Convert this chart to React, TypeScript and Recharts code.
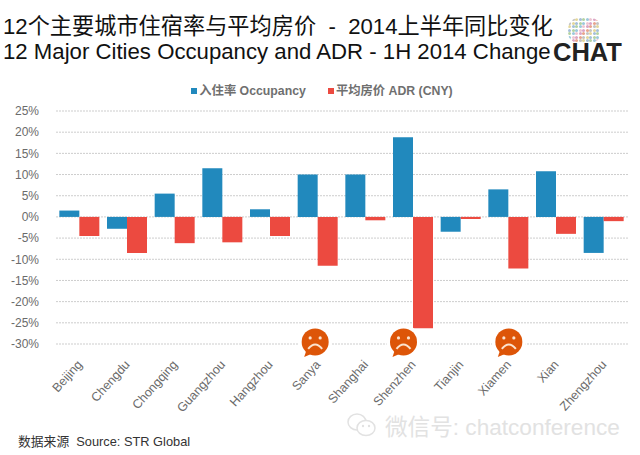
import { Bar, BarChart, CartesianGrid, Legend, ReferenceDot, XAxis, YAxis } from 'recharts'

const cities = ['Beijing', 'Chengdu', 'Chongqing', 'Guangzhou', 'Hangzhou', 'Sanya', 'Shanghai', 'Shenzhen', 'Tianjin', 'Xiamen', 'Xian', 'Zhengzhou']
const occupancy = [1.5, -2.8, 5.5, 11.5, 1.8, 10, 10, 18.8, -3.5, 6.5, 10.8, -8.5]
const adr = [-4.5, -8.5, -6.2, -6, -4.5, -11.5, -0.8, -26.3, -0.5, -12.2, -4, -1]
const yTicks = [25, 20, 15, 10, 5, 0, -5, -10, -15, -20, -25, -30]
const sadCities = ['Sanya', 'Shenzhen', 'Xiamen']
const logoDots = ['#e9a58c', '#9cc9dc', '#e4d79a', '#dba6c6', '#b4d3a2', '#c4c4c4', '#efc6d2', '#a5bfd9']

const data = cities.map((city, i) => ({ city, occupancy: occupancy[i], adr: adr[i] }))

const sans = 'Liberation Sans, Arial, "Noto Sans CJK SC", sans-serif'

function AngledTick({ x, y, payload }: any) {
  return (
    <text
      x={x + 3}
      y={y + 13}
      textAnchor="end"
      fontSize={12.5}
      fill="#6b6b6b"
      fontFamily={sans}
      transform={`rotate(-48 ${x + 3} ${y + 13})`}
    >
      {payload.value}
    </text>
  )
}

function SadFace({ cx, cy, shift }: any) {
  const x = cx + shift
  return (
    <g>
      <circle cx={x} cy={cy} r={17} fill="#fff" />
      <circle cx={x} cy={cy} r={13.5} fill="#dd5508" />
      <path d={`M${x - 9} ${cy + 9} L${x - 11} ${cy + 15} L${x - 4} ${cy + 12} Z`} fill="#dd5508" />
      <circle cx={x - 5} cy={cy - 4} r={1.6} fill="#fbe3cf" />
      <circle cx={x + 5} cy={cy - 4} r={1.6} fill="#fbe3cf" />
      <path d={`M${x - 7} ${cy + 7} Q${x} ${cy - 2} ${x + 7} ${cy + 7}`} fill="none" stroke="#fbe3cf" strokeWidth={2} />
    </g>
  )
}

function LegendRow() {
  return (
    <div style={{ display: 'flex', justifyContent: 'center', gap: 22, paddingLeft: 4, fontSize: 12.3, fontWeight: 700, color: '#6f6f6f', fontFamily: sans }}>
      <span><span style={{ display: 'inline-block', width: 6, height: 6, background: '#2189bd', marginRight: 2, verticalAlign: 1 }} />入住率 Occupancy</span>
      <span><span style={{ display: 'inline-block', width: 6, height: 6, background: '#ec4a40', marginRight: 2, verticalAlign: 1 }} />平均房价 ADR (CNY)</span>
    </div>
  )
}

export default function App() {
  return (
    <div style={{ position: 'absolute', left: 0, top: 0, width: 640, height: 455, background: '#fff', overflow: 'hidden', fontFamily: sans }}>
      <div style={{ position: 'absolute', left: 3, top: 8, fontSize: 22.2, color: '#111', whiteSpace: 'pre' }}>12个主要城市住宿率与平均房价  -  2014上半年同比变化</div>
      <div style={{ position: 'absolute', left: 3, top: 39, fontSize: 22.2, color: '#111', whiteSpace: 'pre' }}>12 Major Cities Occupancy and ADR - 1H 2014 Change</div>

      {/* logo */}
      <div style={{ position: 'absolute', left: 568, top: 18, width: 33, height: 25, borderRadius: 10, overflow: 'hidden', display: 'flex', flexWrap: 'wrap', gap: 0.5, filter: 'blur(0.4px)' }}>
        {Array.from({ length: 70 }).map((_, i) => (
          <span key={i} style={{ width: 3, height: 3, borderRadius: 2, background: logoDots[(i * 5) % logoDots.length] }} />
        ))}
      </div>
      <div style={{ position: 'absolute', left: 553, top: 38, fontSize: 25.5, fontWeight: 700, color: '#222' }}>CHAT</div>

      <div style={{ position: 'absolute', left: 0, top: 70 }}>
        <BarChart
          width={640}
          height={385}
          data={data}
          barCategoryGap="7%"
          barGap={0}
          margin={{ top: 23, right: 12, bottom: 0, left: 0 }}
        >
          <Legend verticalAlign="top" content={<LegendRow />} wrapperStyle={{ top: 11, left: 0, width: 640 }} />
          <CartesianGrid vertical={false} stroke="#cdcdcd" strokeDasharray="2 1" />
          <XAxis
            dataKey="city"
            axisLine={false}
            tickLine={false}
            interval={0}
            tick={<AngledTick />}
            height={111}
          />
          <YAxis
            domain={[-30, 25]}
            ticks={yTicks}
            interval={0}
            tickFormatter={(v) => `${v}%`}
            axisLine={false}
            tickLine={false}
            width={56}
            tick={{ fontSize: 12, fill: '#6b6b6b' }}
            tickMargin={11}
          />
          <Bar dataKey="occupancy" fill="#2189bd" isAnimationActive={false} />
          <Bar dataKey="adr" fill="#ec4a40" isAnimationActive={false} />
          {sadCities.map((c, i) => (
            <ReferenceDot
              key={c}
              x={c}
              y={-29.5}
              ifOverflow="visible"
              shape={(p: any) => <SadFace {...p} shift={[-3, -10, 0][i]} />}
            />
          ))}
        </BarChart>
      </div>

      {/* watermark */}
      <svg style={{ position: 'absolute', left: 346, top: 412 }} width={32} height={26}>
        <ellipse cx={11} cy={10} rx={9} ry={8} fill="none" stroke="#e2e2e2" strokeWidth={1.5} />
        <ellipse cx={20} cy={16} rx={9} ry={7.5} fill="#fff" stroke="#e2e2e2" strokeWidth={1.5} />
        <circle cx={17} cy={14} r={1.2} fill="#e2e2e2" />
        <circle cx={23} cy={14} r={1.2} fill="#e2e2e2" />
      </svg>
      <div style={{ position: 'absolute', left: 385, top: 409, fontSize: 22.6, color: '#e2e2e2', whiteSpace: 'pre' }}>
        微信号: chatconference
      </div>
      <div style={{ position: 'absolute', left: 18, top: 431, fontSize: 12.8, color: '#333', whiteSpace: 'pre' }}>
        数据来源  Source: STR Global
      </div>
    </div>
  )
}
